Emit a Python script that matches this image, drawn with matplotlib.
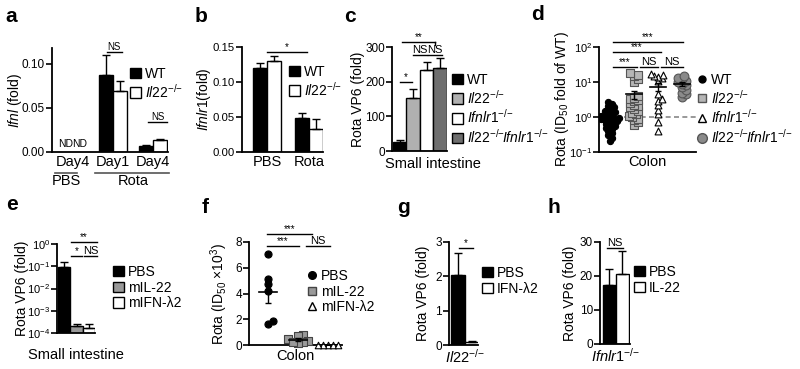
import numpy as np
import matplotlib
matplotlib.use('Agg')
import matplotlib.pyplot as plt
from matplotlib.patches import Patch
from matplotlib.lines import Line2D

plt.rcParams['font.family'] = ['Liberation Sans', 'DejaVu Sans']
plt.rcParams['mathtext.fontset'] = 'custom'
plt.rcParams['mathtext.rm'] = 'Liberation Sans'
plt.rcParams['mathtext.it'] = 'Liberation Sans:italic'
plt.rcParams['mathtext.bf'] = 'Liberation Sans:bold'

IL22 = r'$\mathit{Il22}^{{-}/{-}}$'
IFNLR1 = r'$\mathit{Ifnlr1}^{{-}/{-}}$'
DKO = r'$\mathit{Il22}^{{-}/{-}}\!\mathit{Ifnlr1}^{{-}/{-}}$'

# ---- data ----
# a
a_groups = ['Day4', 'Day1', 'Day4']
a_wt = [np.nan, 0.087, 0.007]
a_wt_err = [0, 0.023, 0.0015]
a_ko = [np.nan, 0.069, 0.014]
a_ko_err = [0, 0.012, 0.0012]
# b
b_groups = ['PBS', 'Rota']
b_wt = [0.120, 0.049]
b_wt_err = [0.007, 0.007]
b_ko = [0.130, 0.033]
b_ko_err = [0.007, 0.014]
# c
c_labels = ['WT', IL22, IFNLR1, DKO]
c_vals = [25, 152, 235, 238]
c_err = [8, 26, 23, 30]
c_colors = ['black', '#b0b0b0', 'white', '#6e6e6e']
# d
d_wt = [0.2, 0.25, 0.3, 0.35, 0.4, 0.45, 0.5, 0.55, 0.6, 0.65, 0.7, 0.75, 0.8, 0.8,
        0.85, 0.9, 0.95, 1.0, 1.0, 1.05, 1.1, 1.2, 1.3, 1.4, 1.5, 1.7, 1.9, 2.1, 2.4, 2.7]
d_il22 = [0.6, 0.7, 0.8, 0.9, 1.0, 1.1, 1.2, 1.3, 1.5, 1.7, 1.9, 2.0, 2.2, 2.5, 2.8,
          3.0, 3.3, 3.6, 4.0, 10, 12, 15, 16, 18]
d_ifnlr1 = [0.4, 0.7, 1.2, 1.6, 2.2, 2.8, 3.3, 4.5, 11, 13, 14, 15, 16, 17]
d_dko = [3.7, 4.5, 5, 6, 7, 8, 9, 10, 11, 12, 13, 15]
# e
e_labels = ['PBS', 'mIL-22', 'mIFN-λ2']
e_vals = [0.09, 2.1e-4, 1.7e-4]
e_err = [0.07, 0.5e-4, 0.8e-4]
e_colors = ['black', '#999999', 'white']
# f
f_pbs = [7.1, 5.1, 4.7, 4.2, 1.9, 1.6]
f_il22 = [0.8, 0.7, 0.5, 0.3, 0.2, 0.15, 0.25]
f_ifn = [0.03, 0.03, 0.03, 0.03, 0.03]
# g
g_labels = ['PBS', 'IFN-λ2']
g_vals = [2.05, 0.1]
g_err = [0.63, 0.03]
# h
h_labels = ['PBS', 'IL-22']
h_vals = [17.5, 20.5]
h_err = [4.5, 7.0]

W, H = 800, 369
fig = plt.figure(figsize=(8, 3.69), dpi=100)


def px_axes(x0, x1, y0, y1):
    ax = fig.add_axes([x0 / W, 1 - y1 / H, (x1 - x0) / W, (y1 - y0) / H])
    for s in ['top', 'right']:
        ax.spines[s].set_visible(False)
    for s in ['left', 'bottom']:
        ax.spines[s].set_linewidth(1.3)
    ax.tick_params(axis='y', length=4, width=1.2, labelsize=8.5, pad=1)
    ax.tick_params(axis='x', length=0, labelsize=10, pad=2)
    ax.tick_params(which='minor', length=0)
    ax.box = (x0, x1, y0, y1)
    return ax


def ylab(ax, text, xc):
    x0, x1, y0, y1 = ax.box
    ax.set_ylabel(text, fontsize=10)
    ax.yaxis.set_label_coords((xc + 5 - x0) / (x1 - x0), 0.5)


def sig(ax, xa, xb, ypx, text, fs=7):
    x0, x1, y0, y1 = ax.box
    yf = (y1 - ypx) / (y1 - y0)
    tr = ax.get_xaxis_transform()
    ax.plot([xa, xb], [yf, yf], transform=tr, color='black', lw=1, clip_on=False)
    ax.text((xa + xb) / 2, yf, text, transform=tr, ha='center', va='bottom',
            fontsize=fs, clip_on=False)


def leg(handles, labels, x, y, fs=10):
    fig.legend(handles, labels, loc='upper left', bbox_to_anchor=(x / W, 1 - y / H),
               frameon=False, borderpad=0, borderaxespad=0, handlelength=0.8,
               handleheight=0.8, handletextpad=0.25, labelspacing=0.12, fontsize=fs)


def box(c):
    return Patch(facecolor=c, edgecolor='black', lw=1)


def swarm(ypix, d):
    placed = []
    offs = np.zeros(len(ypix))
    for i in np.argsort(ypix):
        y = ypix[i]
        for k in [0, 1, -1, 2, -2, 3, -3, 4, -4, 5, -5]:
            x = k * d * 0.5
            if all((x - px) ** 2 + (y - py) ** 2 >= d * d for px, py in placed):
                break
        placed.append((x, y))
        offs[i] = x
    return offs


def mean_sem(ax, xc, vals, hw, cw):
    v = np.array(vals)
    m = v.mean()
    s = v.std(ddof=1) / np.sqrt(len(v))
    ax.plot([xc - hw, xc + hw], [m, m], color='black', lw=1.2, zorder=5)
    ax.errorbar([xc], [m], yerr=[[s], [s]], fmt='none', ecolor='black',
                elinewidth=1, capsize=cw, capthick=1, zorder=5)


def letter(t, x, y):
    fig.text(x / W, 1 - y / H, t, fontsize=15, fontweight='bold', ha='center', va='center')


# ---- panel a ----
ax = px_axes(52, 168, 48, 152)
xa = np.arange(3)
bw = 0.35
ax.bar(xa - bw, a_wt, bw, align='edge', color='black', edgecolor='black', lw=1)
ax.bar(xa, a_ko, bw, align='edge', color='white', edgecolor='black', lw=1)
ax.errorbar(xa - bw / 2, a_wt, yerr=[np.zeros(3), a_wt_err], fmt='none', ecolor='black', capsize=3, elinewidth=1)
ax.errorbar(xa + bw / 2, a_ko, yerr=[np.zeros(3), a_ko_err], fmt='none', ecolor='black', capsize=3, elinewidth=1)
ax.set_xlim(-0.525, 2.375)
ax.set_ylim(0, 0.118)
ax.set_yticks([0, 0.05, 0.10])
ax.set_yticklabels(['0.00', '0.05', '0.10'])
ax.set_xticks(xa)
ax.set_xticklabels(a_groups, fontsize=10.5)
ax.text(-bw / 2, 0.003, 'ND', ha='center', va='bottom', fontsize=7.5)
ax.text(bw / 2, 0.003, 'ND', ha='center', va='bottom', fontsize=7.5)
tr = ax.get_xaxis_transform()
ax.plot([-0.45, 0.1], [-0.2, -0.2], transform=tr, color='#555555', lw=1.2, clip_on=False)
ax.plot([0.55, 2.4], [-0.2, -0.2], transform=tr, color='#555555', lw=1.2, clip_on=False)
ax.text(-0.175, -0.215, 'PBS', transform=tr, ha='center', va='top', fontsize=10.5)
ax.text(1.5, -0.215, 'Rota', transform=tr, ha='center', va='top', fontsize=10.5)
sig(ax, 0.85, 1.22, 52, 'NS')
sig(ax, 1.875, 2.35, 122, 'NS')
ylab(ax, r'$\mathit{Ifnl}$ (fold)', 19)
leg([box('black'), box('white')], ['WT', IL22], 130, 67)

# ---- panel b ----
ax = px_axes(242, 323, 47, 152)
xb = np.arange(2)
bw = 0.333
ax.bar(xb - bw, b_wt, bw, align='edge', color='black', edgecolor='black', lw=1)
ax.bar(xb, b_ko, bw, align='edge', color='white', edgecolor='black', lw=1)
ax.errorbar(xb - bw / 2, b_wt, yerr=[np.zeros(2), b_wt_err], fmt='none', ecolor='black', capsize=3, elinewidth=1)
ax.errorbar(xb + bw / 2, b_ko, yerr=[np.zeros(2), b_ko_err], fmt='none', ecolor='black', capsize=3, elinewidth=1)
ax.set_xlim(-0.595, 1.333)
ax.set_ylim(0, 0.15)
ax.set_yticks([0, 0.05, 0.10, 0.15])
ax.set_yticklabels(['0.00', '0.05', '0.10', '0.15'])
ax.tick_params(axis='y', labelsize=8.2)
ax.set_xticks(xb)
ax.set_xticklabels(b_groups, fontsize=10.5)
sig(ax, 0, 0.95, 52, '*')
ylab(ax, r'$\mathit{Ifnlr1}$(fold)', 208)
leg([box('black'), box('white')], ['WT', IL22], 289, 65)

# ---- panel c ----
ax = px_axes(392, 447, 47, 151)
xc = np.arange(4)
ax.bar(xc, c_vals, 1.0, color=c_colors, edgecolor='black', lw=1)
ax.errorbar(xc, c_vals, yerr=[np.zeros(4), c_err], fmt='none', ecolor='black', capsize=3, elinewidth=1)
ax.set_xlim(-0.57, 3.5)
ax.set_ylim(0, 300)
ax.set_yticks([0, 100, 200, 300])
ax.set_xticks([])
ax.text(0.75, -0.06, 'Small intestine', transform=ax.transAxes, ha='center', va='top', fontsize=10.5)
sig(ax, 0, 0.9, 82, '*')
sig(ax, 0.96, 2.0, 55, 'NS', fs=8)
sig(ax, 2.07, 3.1, 55, 'NS', fs=8)
sig(ax, 0.15, 2.6, 42, '**')
ax.plot([2.6, 2.6], [1.048, 1.02], transform=ax.get_xaxis_transform(), color='black', lw=1, clip_on=False)
ylab(ax, 'Rota VP6 (fold)', 360)
leg([box(c) for c in c_colors], c_labels, 452, 73)

# ---- panel d ----
ax = px_axes(599, 696, 47, 152)
ax.set_yscale('log')
ax.set_ylim(0.1, 100)
ax.set_xlim(-0.46, 3.58)
ax.axhline(1, color='#888888', ls='--', lw=1.2, dashes=(3, 2), zorder=1)
unit = 24.0
d_sets = [
    (d_wt, dict(marker='o', s=20, facecolor='black', edgecolor='black')),
    (d_il22, dict(marker='s', s=26, facecolor='#b5b5b5', edgecolor='#555555')),
    (d_ifnlr1, dict(marker='^', s=24, facecolor='white', edgecolor='black')),
    (d_dko, dict(marker='o', s=40, facecolor='#8a8a8a', edgecolor='#555555')),
]
for i, (vals, st) in enumerate(d_sets):
    v = np.array(vals, dtype=float)
    yp = np.log10(v) * 35.0
    off = swarm(yp, 3.6) / unit
    ax.scatter(i + off, v, linewidths=0.8, zorder=3, **st)
    mean_sem(ax, i, vals, 0.33, 2.5)
ax.set_yticks([0.1, 1, 10, 100])
ax.yaxis.set_minor_locator(matplotlib.ticker.NullLocator())
ax.tick_params(axis='y', labelsize=8)
ax.set_xticks([])
ax.set_xlabel('Colon', fontsize=10.5, labelpad=2)
sig(ax, 0.125, 3.04, 42, '***')
sig(ax, 0.125, 2.125, 52, '***')
sig(ax, 0.125, 1.125, 67, '***')
sig(ax, 1.25, 2.0, 67, 'NS', fs=8)
sig(ax, 2.125, 3.04, 67, 'NS', fs=8)
ylab(ax, r'Rota (ID$_{50}$ fold of WT)', 566)
leg([Line2D([], [], ls='none', marker='o', markersize=5, markerfacecolor='black', markeredgecolor='black'),
     Line2D([], [], ls='none', marker='s', markersize=6, markerfacecolor='#b5b5b5', markeredgecolor='#555555'),
     Line2D([], [], ls='none', marker='^', markersize=6, markerfacecolor='white', markeredgecolor='black'),
     Line2D([], [], ls='none', marker='o', markersize=7, markerfacecolor='#8a8a8a', markeredgecolor='#555555')],
    ['WT', IL22, IFNLR1, DKO], 696, 73)

# ---- panel e ----
ax = px_axes(57, 95, 244, 333)
ax.set_yscale('log')
xe = np.arange(3)
ax.bar(xe, e_vals, 1.0, color=e_colors, edgecolor='black', lw=1)
ax.errorbar(xe, e_vals, yerr=[np.zeros(3), e_err], fmt='none', ecolor='black', capsize=3, elinewidth=1)
ax.set_ylim(1e-4, 1)
ax.set_xlim(-0.56, 2.48)
ax.set_yticks([1e-4, 1e-3, 1e-2, 1e-1, 1])
ax.yaxis.set_minor_locator(matplotlib.ticker.NullLocator())
ax.tick_params(axis='y', labelsize=8)
ax.set_xticks([])
ax.set_xlabel('Small intestine', fontsize=10.5, labelpad=11)
sig(ax, 0.56, 2.64, 242, '**')
sig(ax, 0.56, 1.44, 256, '*')
sig(ax, 1.6, 2.64, 256, 'NS', fs=8)
ylab(ax, 'Rota VP6 (fold)', 24)
leg([box(c) for c in e_colors], e_labels, 113, 265)

# ---- panel f ----
ax = px_axes(249, 342, 242, 345)
unit = 30.0
f_sets = [
    (f_pbs, dict(marker='o', s=26, facecolor='black', edgecolor='black')),
    (f_il22, dict(marker='s', s=30, facecolor='#9a9a9a', edgecolor='#444444')),
    (f_ifn, dict(marker='^', s=22, facecolor='white', edgecolor='black')),
]
for i, (vals, st) in enumerate(f_sets):
    v = np.array(vals, dtype=float)
    off = swarm(v * 12.9, 5.0) / unit
    ax.scatter(i + off, v, linewidths=0.8, zorder=3, clip_on=False, **st)
    mean_sem(ax, i, vals, 0.3, 2.5)
ax.set_xlim(-0.63, 2.47)
ax.set_ylim(0, 8)
ax.set_yticks([0, 2, 4, 6, 8])
ax.set_xticks([])
ax.set_xlabel('Colon', fontsize=10.5, labelpad=3)
sig(ax, -0.03, 1.47, 234, '***')
sig(ax, -0.03, 1.03, 246, '***')
sig(ax, 1.27, 2.07, 246, 'NS', fs=8)
ylab(ax, r'Rota (ID$_{50}$ ×10$^{3}$)', 225)
leg([Line2D([], [], ls='none', marker='o', markersize=5.5, markerfacecolor='black', markeredgecolor='black'),
     Line2D([], [], ls='none', marker='s', markersize=6, markerfacecolor='#9a9a9a', markeredgecolor='#444444'),
     Line2D([], [], ls='none', marker='^', markersize=6, markerfacecolor='white', markeredgecolor='black')],
    ['PBS', 'mIL-22', 'mIFN-λ2'], 306, 269)

# ---- panel g ----
ax = px_axes(449, 478, 242, 345)
xg = np.arange(2)
ax.bar(xg, g_vals, 1.0, color=['black', 'white'], edgecolor='black', lw=1)
ax.errorbar(xg, g_vals, yerr=[np.zeros(2), g_err], fmt='none', ecolor='black', capsize=3, elinewidth=1)
ax.set_xlim(-0.64, 1.43)
ax.set_ylim(0, 3)
ax.set_yticks([0, 1, 2, 3])
ax.set_xticks([0.5])
ax.set_xticklabels([IL22], fontsize=10.5)
sig(ax, 0.07, 1.07, 248, '*')
ylab(ax, 'Rota VP6 (fold)', 425)
leg([box('black'), box('white')], g_labels, 482, 266)

# ---- panel h ----
ax = px_axes(600, 630, 242, 344)
xh = np.arange(2)
ax.bar(xh, h_vals, 1.0, color=['black', 'white'], edgecolor='black', lw=1)
ax.errorbar(xh, h_vals, yerr=[np.zeros(2), h_err], fmt='none', ecolor='black', capsize=3, elinewidth=1)
ax.set_xlim(-0.73, 1.58)
ax.set_ylim(0, 30)
ax.set_yticks([0, 10, 20, 30])
ax.set_xticks([0.5])
ax.set_xticklabels([IFNLR1], fontsize=10.5)
sig(ax, -0.2, 1.03, 248, 'NS', fs=8)
ylab(ax, 'Rota VP6 (fold)', 572)
leg([box('black'), box('white')], h_labels, 634, 265)

for t, x, y in [('a', 11, 17), ('b', 201, 17), ('c', 350, 17), ('d', 538, 15),
                ('e', 12, 205), ('f', 205, 207), ('g', 403, 208), ('h', 554, 207)]:
    letter(t, x, y)

fig.savefig('out.png', dpi=100)
